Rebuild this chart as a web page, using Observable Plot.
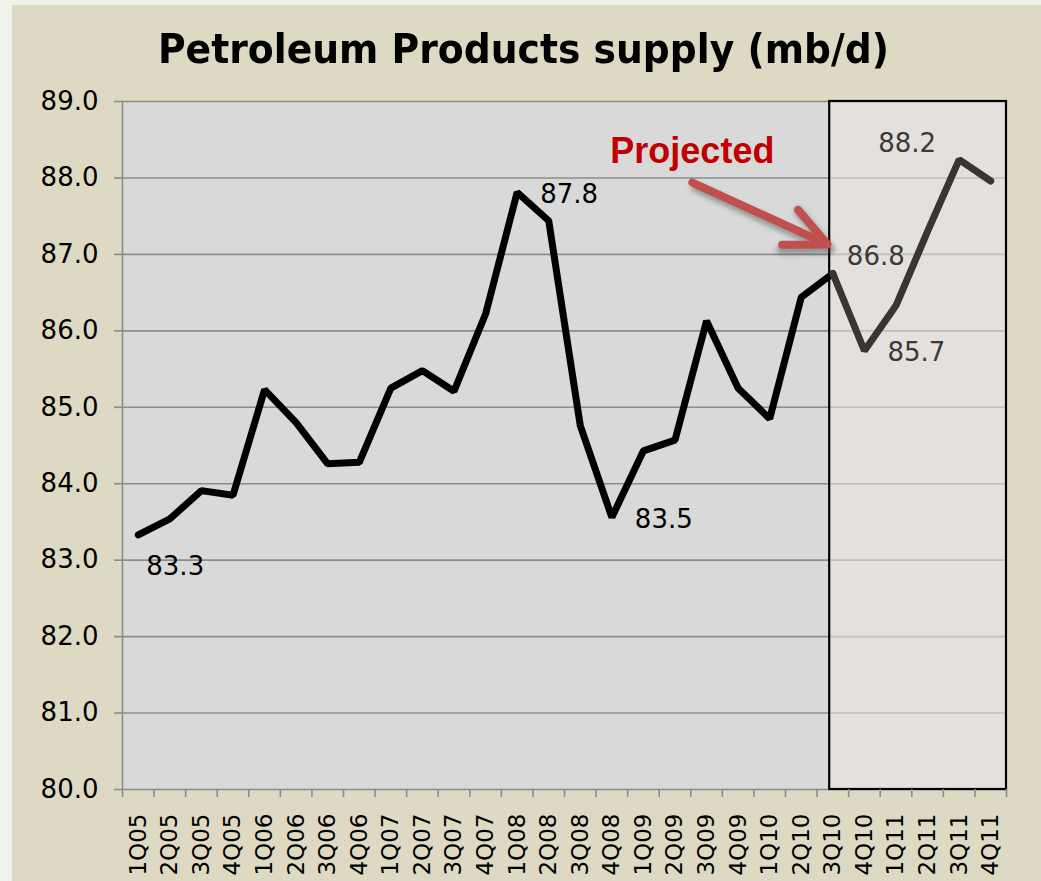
<!DOCTYPE html>
<html><head><meta charset="utf-8">
<script src="https://cdn.jsdelivr.net/npm/d3@7"></script>
<script src="https://cdn.jsdelivr.net/npm/@observablehq/plot@0.6"></script>
<style>
html,body{margin:0;padding:0;background:#f1f1ec;}
#wrap{position:relative;width:1041px;height:881px;overflow:hidden;background:#f1f1ec;}
#panel{position:absolute;left:12px;top:5px;right:0;bottom:0;background:#ddd9c3;}
#chart{position:absolute;left:0;top:0;}
#title{position:absolute;left:3px;top:29px;width:1041px;text-align:center;font-family:"DejaVu Sans";font-weight:bold;font-size:41px;line-height:41px;transform:scaleX(0.92);transform-origin:50% 50%;color:#000;white-space:nowrap;}
</style></head><body>
<div id="wrap"><div id="panel"></div><div id="chart"></div><div id="title">Petroleum Products supply (mb/d)</div></div>
<script>
const quarters = ["1Q05","2Q05","3Q05","4Q05","1Q06","2Q06","3Q06","4Q06","1Q07","2Q07","3Q07","4Q07","1Q08","2Q08","3Q08","4Q08","1Q09","2Q09","3Q09","4Q09","1Q10","2Q10","3Q10","4Q10","1Q11","2Q11","3Q11","4Q11"];
const supply = [83.33,83.54,83.91,83.85,85.23,84.80,84.26,84.28,85.25,85.48,85.21,86.22,87.81,87.44,84.76,83.56,84.43,84.57,86.13,85.25,84.85,86.44,86.75,85.74,86.33,87.30,88.24,87.96];
const projectedFrom = "3Q10";
const yTicks = [80,81,82,83,84,85,86,87,88,89];
const labelQuarters = ["1Q05","1Q08","4Q08","3Q10","4Q10","3Q11"];
const labelTexts = ["83.3","87.8","83.5","86.8","85.7","88.2"];
const annotationText = "Projected";
const arrowStart = {x: 18.05, y: 87.94};
const arrowEnd = {x: 22.33, y: 87.13};

const pIdx = quarters.indexOf(projectedFrom);
const rows = quarters.map((q, i) => ({q, i, x: i + 0.5, v: supply[i]}));
const actual = rows.filter(d => d.i <= pIdx);
const projected = rows.filter(d => d.i >= pIdx);

// label styling (offsets in pixels)
const labelStyle = {
  "1Q05": {dx: 8, dy: 32, textAnchor: "start", fill: "#000"},
  "1Q08": {dx: 23, dy: 2, textAnchor: "start", fill: "#000"},
  "4Q08": {dx: 23, dy: 2, textAnchor: "start", fill: "#000"},
  "3Q10": {dx: 14, dy: -17, textAnchor: "start", fill: "#3a3a3a"},
  "4Q10": {dx: 23, dy: 2, textAnchor: "start", fill: "#3a3a3a"},
  "3Q11": {dx: -23, dy: -16, textAnchor: "end", fill: "#3a3a3a"}
};
const labelMarks = labelQuarters.map((q, k) => {
  const r = rows[quarters.indexOf(q)];
  const s = labelStyle[q];
  return Plot.text([{x: r.x, v: r.v, t: labelTexts[k]}], {x: "x", y: "v", text: "t", fontSize: 26, ...s});
});

const rectData = [{x1: pIdx + 0.4, x2: quarters.length, y1: yTicks[0], y2: yTicks[yTicks.length - 1]}];

const plot = Plot.plot({
  width: 1041, height: 881,
  marginLeft: 122, marginRight: 35, marginTop: 101, marginBottom: 92,
  style: {fontFamily: "DejaVu Sans", background: "transparent", overflow: "visible"},
  x: {type: "linear", domain: [0, quarters.length]},
  y: {domain: [yTicks[0], yTicks[yTicks.length - 1]]},
  marks: [
    Plot.frame({fill: "#d9d9d9", stroke: "none"}),
    Plot.ruleY(yTicks, {stroke: "#8c8c8c", strokeWidth: 1.6}),
    Plot.rect(rectData, {x1: "x1", x2: "x2", y1: "y1", y2: "y2", fill: "#ede8e0", fillOpacity: 0.55}),
    Plot.ruleX([0], {stroke: "#8c8c8c", strokeWidth: 1.6}),
    Plot.rect(rectData, {x1: "x1", x2: "x2", y1: "y1", y2: "y2", fill: "none", stroke: "#000", strokeWidth: 2.2}),
    Plot.line(actual, {x: "x", y: "v", stroke: "#000", strokeWidth: 7, strokeLinejoin: "miter", strokeLinecap: "round"}),
    Plot.line(projected, {x: "x", y: "v", stroke: "#3a3531", strokeWidth: 7, strokeLinejoin: "miter", strokeLinecap: "round"}),
    Plot.arrow([{x1: arrowStart.x, y1: arrowStart.y, x2: arrowEnd.x, y2: arrowEnd.y}],
      {x1: "x1", y1: "y1", x2: "x2", y2: "y2", stroke: "#444", strokeOpacity: 0.45, strokeWidth: 9, headLength: 8.5, headAngle: 50, dx: 3, dy: 5}),
    Plot.arrow([{x1: arrowStart.x, y1: arrowStart.y, x2: arrowEnd.x, y2: arrowEnd.y}],
      {x1: "x1", y1: "y1", x2: "x2", y2: "y2", stroke: "#c0504d", strokeWidth: 8, headLength: 8.5, headAngle: 50}),
    Plot.text([annotationText], {x: arrowStart.x, y: arrowStart.y, text: d => d, dy: -20, lineAnchor: "bottom", fontFamily: "Liberation Sans", fontWeight: "bold", fontSize: 36, fill: "#c00000"}),
    ...labelMarks,
    Plot.axisY(yTicks, {tickSize: 8, tickPadding: 16, tickFormat: d => d.toFixed(1), fontSize: 26, stroke: "#8c8c8c", strokeWidth: 1.6, fill: "#000", label: null}),
    Plot.axisX(d3.range(0, quarters.length + 1), {tickSize: 8, tickFormat: () => "", stroke: "#8c8c8c", strokeWidth: 1.6, label: null}),
    Plot.axisX(rows.map(d => d.x), {tickSize: 0, tickRotate: -90, tickPadding: 24, tickFormat: x => quarters[Math.floor(x)], fontSize: 23, fill: "#000", label: null})
  ]
});
document.getElementById("chart").appendChild(plot);
// blur the arrow shadow
const arrows = plot.querySelectorAll('g[aria-label="arrow"]');
if (arrows.length) arrows[0].style.filter = "blur(2.5px)";
</script>
</body></html>
